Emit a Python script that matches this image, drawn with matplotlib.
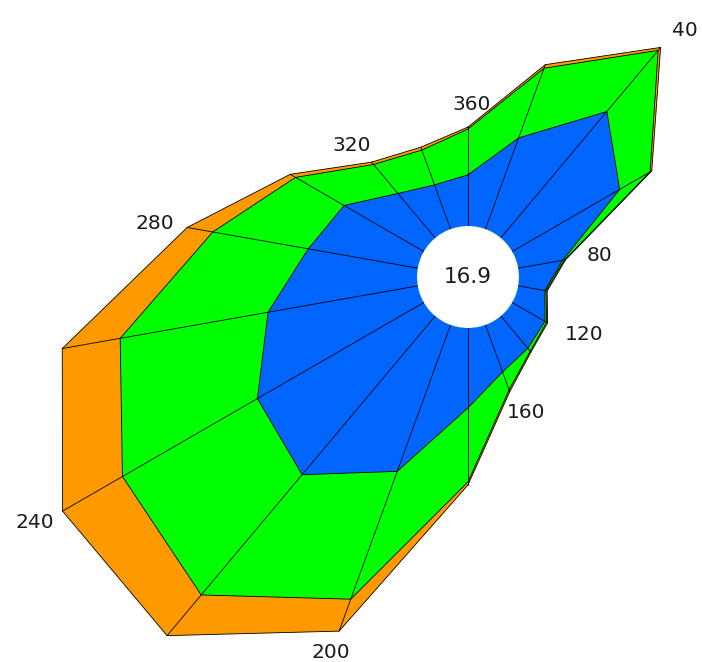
import numpy as np
import matplotlib
matplotlib.use("Agg")
import matplotlib.pyplot as plt

# Wind directions (degrees, clockwise from north) and stacked frequencies (%)
directions = np.arange(0, 360, 20)
freq_low = [1.34, 2.54, 4.32, 3.25, 1.18, 0.71, 0.99, 1.10, 1.31,
            2.09, 4.08, 5.42, 5.03, 3.98, 2.91, 2.41, 1.52, 1.23]
freq_mid = [1.20, 1.94, 2.09, 0.92, 0.05, 0.03, 0.05, 0.10, 0.50,
            1.94, 3.56, 4.11, 4.08, 3.93, 2.54, 1.47, 0.99, 0.97]
freq_high = [0.05, 0.10, 0.10, 0.05, 0.03, 0.03, 0.03, 0.03, 0.05,
             0.08, 0.89, 1.39, 1.81, 1.54, 0.68, 0.16, 0.08, 0.08]
calm = 16.9
label_dirs = [40, 80, 120, 160, 200, 240, 280, 320, 360]

colors = ["#0066ff", "#00ff00", "#ff9900"]
hole = 1.335      # radius of the calm circle, in frequency units
r_limit = 11.23   # outer limit of the radial axis

W, H, DPI = 702, 662, 100
fig = plt.figure(figsize=(W / DPI, H / DPI), dpi=DPI, facecolor="white")
R_px = 480
cx, cy = 468, 277
ax = fig.add_axes([(cx - R_px) / W, (H - cy - R_px) / H, 2 * R_px / W, 2 * R_px / H],
                  projection="polar")
ax.set_theta_zero_location("N")
ax.set_theta_direction(-1)
ax.set_rorigin(-hole)
ax.set_ylim(0, r_limit)
ax.axis("off")

theta = np.deg2rad(directions)
c1 = np.array(freq_low)
c2 = c1 + np.array(freq_mid)
c3 = c2 + np.array(freq_high)


def closed(a):
    return np.append(a, a[0])


th_c = closed(theta)
for z, (cum, col) in enumerate(zip([c3, c2, c1], colors[::-1])):
    ax.fill(th_c, closed(cum), color=col, lw=0, zorder=1 + z)

# calm circle
tt = np.linspace(0, 2 * np.pi, 721)
ax.fill(tt, np.zeros_like(tt), color="white", lw=0, zorder=5)

# layer outlines
for cum in (c1, c2, c3):
    ax.plot(th_c, closed(cum), color="black", lw=0.6, zorder=6)

# spokes
for t, r in zip(theta, c3):
    ax.plot([t, t], [0, r], color="black", lw=0.6, zorder=6)

# direction labels just outside the outer ring
fs = 14.5
em = fs * DPI / 72
gap_x, gap_y, shift_x = 18, 15, 4
for d in label_dirs:
    idx = int(np.where(directions == d % 360)[0][0])
    t = theta[idx]
    txt = str(d)
    w = 0.636 * em * len(txt)
    h = 0.729 * em
    dx = (np.sin(t) * (gap_x + w / 2) + shift_x) * 72 / DPI
    dy = np.cos(t) * (gap_y + h / 2) * 72 / DPI
    ax.annotate(txt, xy=(t, c3[idx]), xytext=(dx, dy), textcoords="offset points",
                ha="center", va="center", fontsize=fs, color="#1a1a1a",
                annotation_clip=False, zorder=7)

ax.text(0.5, 0.5, f"{calm}", transform=ax.transAxes, ha="center", va="center",
        fontsize=15.5, color="#1a1a1a", zorder=8)

fig.savefig("out.png", dpi=DPI, facecolor="white")
